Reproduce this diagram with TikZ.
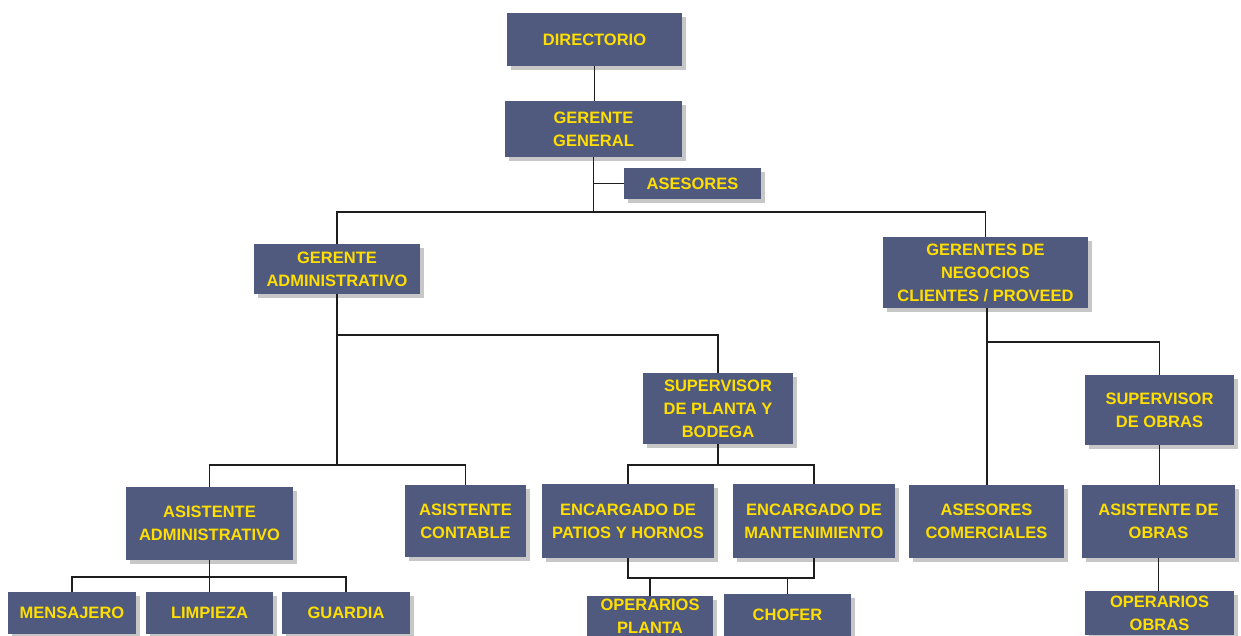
\documentclass[tikz,border=0pt]{standalone}
\usepackage{fontspec}
\setmainfont{Liberation Sans}
\usetikzlibrary{shadows}
\definecolor{boxblue}{RGB}{79,90,126}
\definecolor{boxtext}{RGB}{255,222,0}
\definecolor{linegray}{RGB}{30,30,30}
\tikzset{
  orgbox/.style={draw=none, fill=boxblue, text=boxtext, align=center, inner sep=0pt,
    font=\fontsize{16.5}{23}\selectfont\bfseries,
    drop shadow={shadow xshift=3.5pt, shadow yshift=-3.5pt, fill=black!40, opacity=0.55}},
  conn/.style={draw=linegray, line width=1.7pt}
}
\begin{document}
\begin{tikzpicture}[x=1pt,y=-1pt]
\useasboundingbox (0,0) rectangle (1241,635);
\clip (0,0) rectangle (1241,635);
\fill[white] (0,0) rectangle (1241,635);
% nodes
\node[orgbox, minimum width=175pt, minimum height=53pt] (dir) at (594.5,39.5) {DIRECTORIO};
\node[orgbox, minimum width=177pt, minimum height=56pt] (gg) at (593.5,129) {GERENTE\\GENERAL};
\node[orgbox, minimum width=137pt, minimum height=31pt] (ase) at (692.5,183.5) {ASESORES};
\node[orgbox, minimum width=166pt, minimum height=50pt] (ga) at (337,269) {GERENTE\\ADMINISTRATIVO};
\node[orgbox, minimum width=205pt, minimum height=71pt] (gn) at (985.5,272.5) {GERENTES DE\\NEGOCIOS\\CLIENTES / PROVEED};
\node[orgbox, minimum width=150pt, minimum height=71pt] (spb) at (718,408.5) {SUPERVISOR\\DE PLANTA Y\\BODEGA};
\node[orgbox, minimum width=149pt, minimum height=70pt] (sdo) at (1159.5,410) {SUPERVISOR\\DE OBRAS};
\node[orgbox, minimum width=167pt, minimum height=73pt] (aa) at (209.5,523.5) {ASISTENTE\\ADMINISTRATIVO};
\node[orgbox, minimum width=121pt, minimum height=72pt] (ac) at (465.5,521) {ASISTENTE\\CONTABLE};
\node[orgbox, minimum width=172pt, minimum height=74pt] (eph) at (628,521) {ENCARGADO DE\\PATIOS Y HORNOS};
\node[orgbox, minimum width=162pt, minimum height=74pt] (em) at (814,521) {ENCARGADO DE\\MANTENIMIENTO};
\node[orgbox, minimum width=155pt, minimum height=73pt] (aco) at (986.5,521.5) {ASESORES\\COMERCIALES};
\node[orgbox, minimum width=153pt, minimum height=73pt] (ado) at (1158.5,521.5) {ASISTENTE DE\\OBRAS};
\node[orgbox, minimum width=128pt, minimum height=42pt] (men) at (72,613) {MENSAJERO};
\node[orgbox, minimum width=127pt, minimum height=42pt] (lim) at (209.5,613) {LIMPIEZA};
\node[orgbox, minimum width=128pt, minimum height=42pt] (gua) at (346,613) {GUARDIA};
\node[orgbox, minimum width=126pt, minimum height=40pt] (opp) at (650,616) {OPERARIOS\\PLANTA};
\node[orgbox, minimum width=127pt, minimum height=42pt] (cho) at (787.5,615) {CHOFER};
\node[orgbox, minimum width=149pt, minimum height=44pt] (opo) at (1159.5,613) {OPERARIOS\\OBRAS};
% junctions
\coordinate (jtop) at (594,212);
\coordinate (jspb) at (337,335);
\coordinate (jaa) at (337,465);
\coordinate (jenc) at (718,465);
\coordinate (jbot) at (0,578);
\coordinate (jmen) at (209.5,577);
\coordinate (jsdo) at (987,342);
% connectors
\draw[conn] (dir.south) -- (dir.south |- gg.north);
\draw[conn] (gg.south) -- (gg.south |- jtop);
\draw[conn] (gg.south |- ase.west) -- (ase.west);
\draw[conn] (ga.north) |- (jtop) -| (gn.north);
\draw[conn] (ga.south) -- (jaa);
\draw[conn] (jspb) -| (spb.north);
\draw[conn] (aa.north) |- (jaa) -| (ac.north);
\draw[conn] (aa.south) -- (jmen);
\draw[conn] (men.north) |- (jmen) -| (gua.north);
\draw[conn] (lim.north) -- (jmen);
\draw[conn] (spb.south) -- (jenc);
\draw[conn] (eph.north) |- (jenc) -| (em.north);
\draw[conn] (eph.south) |- (em.south |- jbot) -- (em.south);
\draw[conn] (opp.north) -- (opp.north |- jbot);
\draw[conn] (cho.north) -- (cho.north |- jbot);
\draw[conn] (jsdo |- gn.south) -- (jsdo |- aco.north);
\draw[conn] (jsdo) -| (sdo.north);
\draw[conn] (sdo.south) -- (sdo.south |- ado.north);
\draw[conn] (ado.south) -- (ado.south |- opo.north);
\end{tikzpicture}
\end{document}
